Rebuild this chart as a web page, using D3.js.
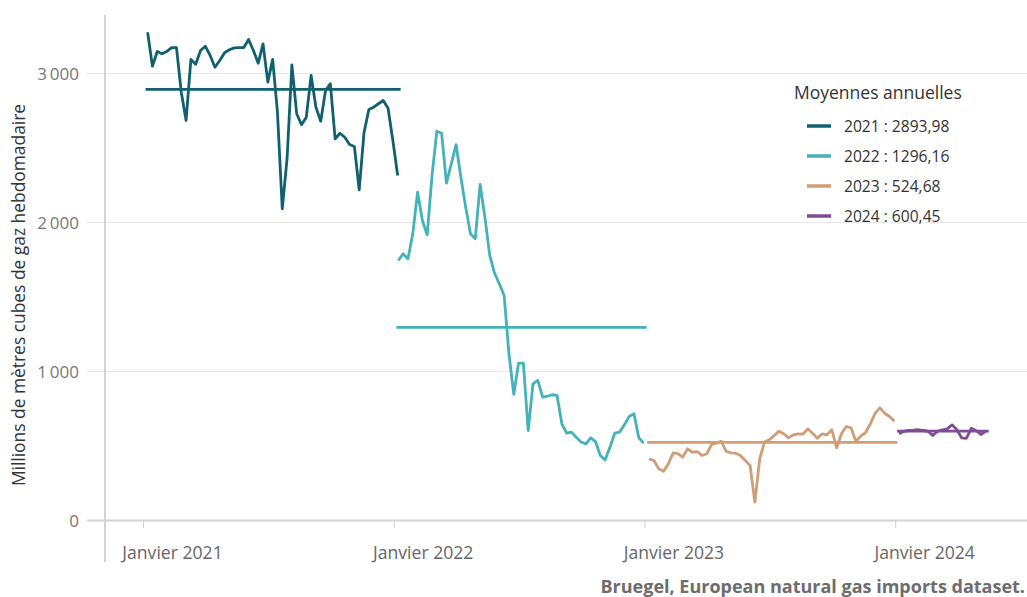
<!DOCTYPE html>
<html>
<head>
<meta charset="utf-8">
<script src="https://cdn.jsdelivr.net/npm/d3@7"></script>
<style>
  body { margin: 0; background: #fff; }
  svg { font-family: "Open Sans", "Noto Sans", sans-serif; }
</style>
</head>
<body>
<div id="chart"></div>
<script>
const width = 1027;
const height = 597;

// weekly imports, millions m3
const values2021 = [3277, 3049, 3148, 3132, 3148, 3174, 3174, 2874, 2685, 3094, 3062, 3154, 3183, 3121, 3042, 3087, 3139, 3159, 3172, 3174, 3174, 3228, 3154, 3069, 3199, 2942, 3095, 2740, 2092, 2428, 3058, 2730, 2656, 2707, 2987, 2774, 2680, 2886, 2931, 2562, 2599, 2572, 2523, 2510, 2219, 2602, 2758, 2774, 2797, 2819, 2767, 2550, 2315];
const values2022 = [1745, 1790, 1756, 1924, 2203, 2013, 1917, 2315, 2613, 2599, 2264, 2394, 2523, 2304, 2103, 1924, 1891, 2255, 2036, 1779, 1660, 1589, 1510, 1119, 846, 1056, 1056, 604, 917, 940, 828, 834, 844, 839, 649, 586, 593, 559, 526, 515, 555, 530, 436, 407, 492, 586, 593, 642, 698, 716, 555, 519];
const values2023 = [414, 403, 347, 331, 380, 454, 448, 425, 481, 458, 463, 436, 448, 510, 519, 532, 465, 454, 452, 436, 403, 369, 123, 414, 526, 542, 570, 599, 582, 555, 575, 582, 579, 615, 586, 552, 582, 575, 609, 488, 582, 631, 622, 532, 566, 589, 649, 720, 756, 720, 698, 667];
const values2024 = [582, 599, 604, 606, 609, 604, 599, 570, 599, 609, 615, 642, 609, 555, 552, 619, 604, 577, 599];

const years = ["2021", "2022", "2023", "2024"];
const firstWeeks = ["2021-01-07", "2022-01-07", "2023-01-07", "2024-01-06"];
const means = [2893.98, 1296.16, 524.68, 600.45];
const meanLabels = ["2021 : 2893,98", "2022 : 1296,16", "2023 : 524,68", "2024 : 600,45"];
const colors = ["#11606f", "#43b3b9", "#d19d74", "#7f4d96"];
const yTicks = [0, 1000, 2000, 3000];
const xTicks = ["2021-01-01", "2022-01-01", "2023-01-01", "2024-01-01"];
const xTickLabels = ["Janvier 2021", "Janvier 2022", "Janvier 2023", "Janvier 2024"];

const parse = d3.utcParse("%Y-%m-%d");
const series = [values2021, values2022, values2023, values2024].map(function(vals, i) {
  const start = parse(firstWeeks[i]);
  return vals.map(function(v, k) {
    return { date: d3.utcDay.offset(start, 7 * k), value: v };
  });
});

const x = d3.scaleUtc()
  .domain([parse("2021-01-01"), parse("2024-01-01")])
  .range([143.5, 895.7]);

const y = d3.scaleLinear()
  .domain([0, 3000])
  .range([520.5, 73.5]);

const svg = d3.select('#chart').append('svg')
  .attr('width', width)
  .attr('height', height);

// grid
svg.append('g').selectAll('line')
  .data(yTicks)
  .enter().append('line')
  .attr('x1', 87).attr('x2', width)
  .attr('y1', d => y(d)).attr('y2', d => y(d))
  .attr('stroke', d => d === 0 ? '#d4d4d4' : '#e8e8e8')
  .attr('stroke-width', d => d === 0 ? 2 : 1);

svg.append('g').selectAll('text')
  .data(yTicks)
  .enter().append('text')
  .attr('x', 79)
  .attr('y', d => y(d))
  .attr('dy', '0.36em')
  .attr('text-anchor', 'end')
  .attr('font-size', 17)
  .attr('fill', '#777')
  .text(d => d3.format(",")(d).replace(",", "\u2009"));

// y axis line
svg.append('line')
  .attr('x1', 105).attr('x2', 105)
  .attr('y1', 15).attr('y2', 562)
  .attr('stroke', '#d4d4d4')
  .attr('stroke-width', 2);

svg.append('text')
  .attr('transform', 'translate(25,295) rotate(-90)')
  .attr('text-anchor', 'middle')
  .attr('font-size', 17.4)
  .attr('fill', '#333')
  .text('Millions de mètres cubes de gaz hebdomadaire');

// x ticks
const xt = svg.append('g').selectAll('g')
  .data(xTicks)
  .enter().append('g')
  .attr('transform', d => 'translate(' + x(parse(d)) + ',0)');

xt.append('line')
  .attr('y1', 520.5).attr('y2', 528)
  .attr('stroke', '#d0d0d0');

xt.append('text')
  .attr('x', 29)
  .attr('y', 559)
  .attr('text-anchor', 'middle')
  .attr('font-size', 17.6)
  .attr('fill', '#666')
  .text((d, i) => xTickLabels[i]);

// mean lines
const meanG = svg.append('g');
series.forEach(function(s, i) {
  meanG.append('line')
    .attr('x1', x(s[0].date) - 2)
    .attr('x2', x(s[s.length - 1].date) + 3)
    .attr('y1', y(means[i]))
    .attr('y2', y(means[i]))
    .attr('stroke', colors[i])
    .attr('stroke-width', 2.8);
});

// weekly lines
const line = d3.line()
  .x(d => x(d.date))
  .y(d => y(d.value));

svg.append('g').selectAll('path')
  .data(series)
  .enter().append('path')
  .attr('d', line)
  .attr('fill', 'none')
  .attr('stroke', (d, i) => colors[i])
  .attr('stroke-width', 2.8)
  .attr('stroke-linejoin', 'round');

// legend
const legend = svg.append('g');
legend.append('text')
  .attr('x', 794)
  .attr('y', 99)
  .attr('font-size', 17.5)
  .attr('fill', '#333')
  .text('Moyennes annuelles');

const items = legend.selectAll('g.item')
  .data(years)
  .enter().append('g')
  .classed('item', true)
  .attr('transform', (d, i) => 'translate(0,' + (126 + i * 30) + ')');

items.append('line')
  .attr('x1', 807).attr('x2', 831)
  .attr('stroke', (d, i) => colors[i])
  .attr('stroke-width', 3.5);

items.append('text')
  .attr('x', 844)
  .attr('dy', '0.36em')
  .attr('font-size', 15.6)
  .attr('fill', '#333')
  .text((d, i) => meanLabels[i]);

// source
svg.append('text')
  .attr('x', 1025)
  .attr('y', 593)
  .attr('text-anchor', 'end')
  .attr('font-size', 18)
  .attr('font-weight', 'bold')
  .attr('fill', '#6d6d6d')
  .text('Bruegel, European natural gas imports dataset.');
</script>
</body>
</html>
